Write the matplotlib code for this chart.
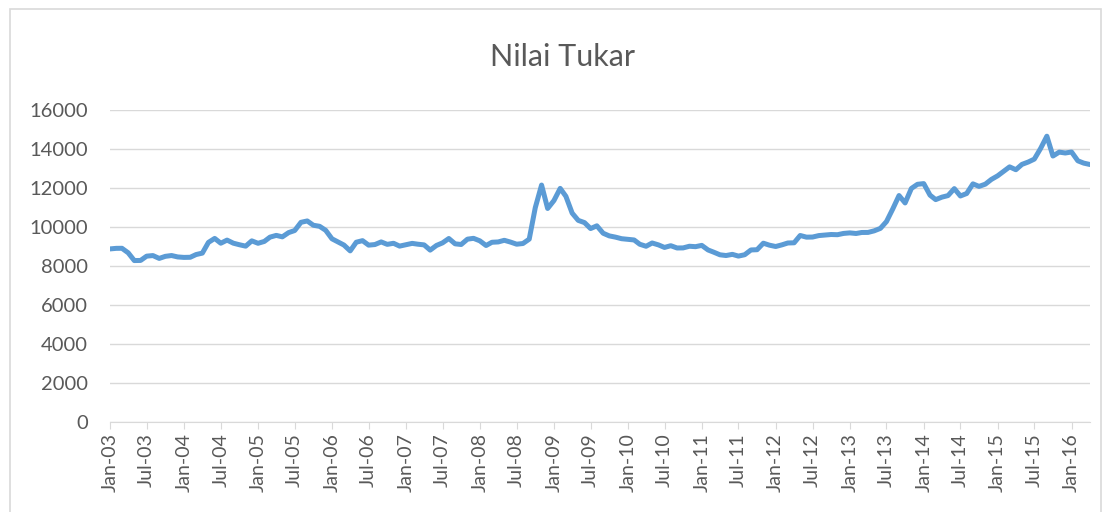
import pandas as pd
import matplotlib
matplotlib.use('Agg')
import matplotlib.pyplot as plt
from matplotlib.patches import Rectangle

# monthly exchange rate (IDR per USD), Jan 2003 - Apr 2016
nilai_2003 = [8876, 8905, 8908, 8675, 8279, 8285, 8505, 8535, 8389, 8495, 8537, 8465]
nilai_2004 = [8441, 8447, 8587, 8661, 9210, 9415, 9168, 9328, 9170, 9090, 9018, 9290]
nilai_2005 = [9165, 9260, 9480, 9570, 9495, 9713, 9819, 10240, 10310, 10090, 10035, 9830]
nilai_2006 = [9395, 9230, 9075, 8775, 9220, 9300, 9070, 9100, 9235, 9110, 9165, 9020]
nilai_2007 = [9090, 9160, 9118, 9083, 8815, 9054, 9186, 9410, 9137, 9103, 9376, 9419]
nilai_2008 = [9291, 9051, 9217, 9234, 9318, 9225, 9118, 9153, 9378, 10995, 12151, 10950]
nilai_2009 = [11355, 11980, 11575, 10713, 10340, 10225, 9920, 10060, 9681, 9545, 9480, 9400]
nilai_2010 = [9365, 9335, 9115, 9012, 9180, 9083, 8952, 9041, 8924, 8928, 9013, 8991]
nilai_2011 = [9057, 8823, 8709, 8574, 8537, 8597, 8508, 8578, 8823, 8835, 9170, 9068]
nilai_2012 = [9000, 9085, 9180, 9190, 9565, 9480, 9485, 9560, 9588, 9615, 9605, 9670]
nilai_2013 = [9698, 9667, 9719, 9722, 9802, 9929, 10278, 10924, 11613, 11234, 11977, 12189]
nilai_2014 = [12226, 11634, 11404, 11532, 11611, 11969, 11591, 11717, 12212, 12082, 12196, 12440]
nilai_2015 = [12625, 12863, 13084, 12937, 13211, 13332, 13481, 14027, 14657, 13639, 13840, 13795]
nilai_2016 = [13846, 13395, 13276, 13204]

nilai = (nilai_2003 + nilai_2004 + nilai_2005 + nilai_2006 + nilai_2007 + nilai_2008 + nilai_2009
         + nilai_2010 + nilai_2011 + nilai_2012 + nilai_2013 + nilai_2014 + nilai_2015 + nilai_2016)
bulan = pd.date_range('2003-01-01', periods=len(nilai), freq='MS')
y_ticks = [0, 2000, 4000, 6000, 8000, 10000, 12000, 14000, 16000]

text_col = '#595959'
grid_col = '#D9D9D9'
line_col = '#5B9BD5'

plt.rcParams['font.family'] = ['Lato', 'DejaVu Sans']

fig = plt.figure(figsize=(11.04, 5.12), dpi=100)
fig.patches.append(Rectangle((10 / 1104, -0.1), 1091 / 1104, 1.1 - 9 / 512, transform=fig.transFigure,
                             fill=False, edgecolor=grid_col, linewidth=1.2))
ax = fig.add_axes([110 / 1104, 90 / 512, 980 / 1104, 312 / 512])

ax.plot(bulan, nilai, color=line_col, linewidth=3.6, solid_joinstyle='round', solid_capstyle='round')

ax.set_ylim(0, 16000)
ax.set_yticks(y_ticks)
ax.set_yticklabels([str(v) for v in y_ticks])
ax.set_xlim(bulan[0], bulan[-1])
xt = bulan[::6]
ax.set_xticks(xt)
ax.set_xticklabels([d.strftime('%b-%y') for d in xt], rotation=90)

ax.grid(axis='y', color=grid_col, linewidth=1)
ax.set_axisbelow(True)
for s in ['top', 'right', 'left']:
    ax.spines[s].set_visible(False)
ax.spines['bottom'].set_color(grid_col)
ax.tick_params(axis='y', length=0, pad=16, labelsize=14.5, labelcolor=text_col)
ax.tick_params(axis='x', length=5, color=grid_col, pad=3, labelsize=14, labelcolor=text_col)

fig.text(563 / 1104, 1 - 57 / 512, 'Nilai Tukar', ha='center', va='center', fontsize=22, color=text_col)

fig.savefig('out.png', dpi=100, facecolor='white')
